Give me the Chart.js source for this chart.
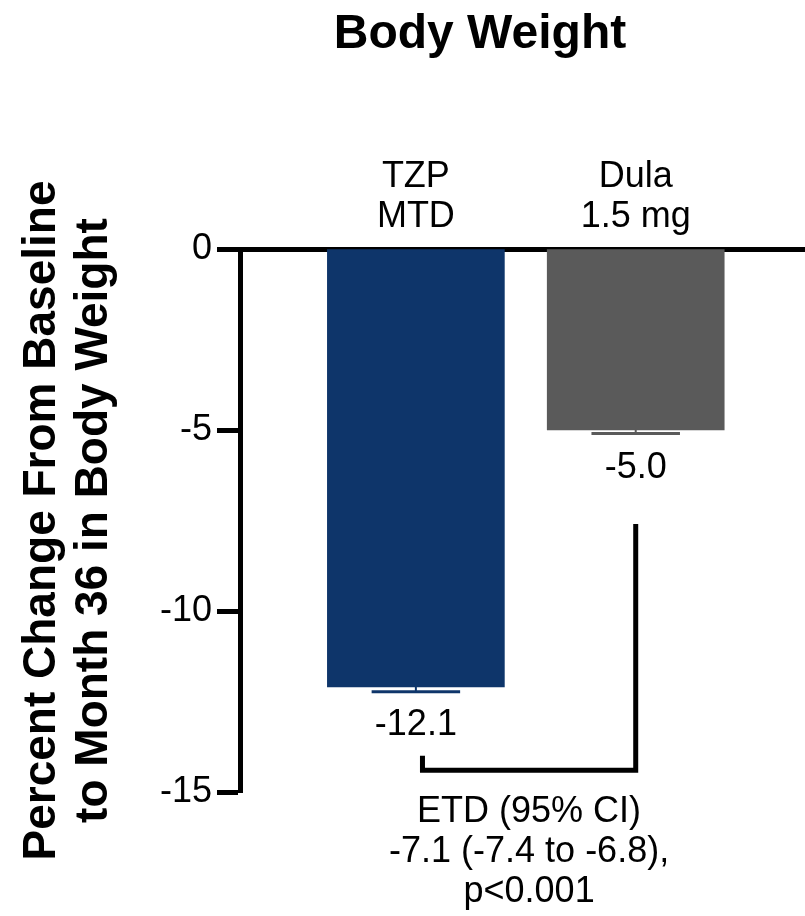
<!DOCTYPE html>
<html>
<head>
<meta charset="utf-8">
<script src="https://cdn.jsdelivr.net/npm/chart.js@4.4.1/dist/chart.umd.min.js"></script>
<style>
  body { margin: 0; background: #fff; }
  canvas { display: block; }
</style>
</head>
<body>
<canvas id="weightChart" width="805" height="916"></canvas>
<script>
const FONT = "'Liberation Sans', Arial, sans-serif";

// data
const categories = [["TZP", "MTD"], ["Dula", "1.5 mg"]];
const positions = [1, 2];
const meanChange = [-12.1, -5.0];
const stdError = [0.13, 0.1];
const valueLabels = ["-12.1", "-5.0"];
const barColors = ["#0e356a", "#5a5a5a"];

// bracket between the groups (data units)
const bracketX = [1.03, 1.03, 2, 2];
const bracketY = [-14.0, -14.4, -14.4, -7.6];
const etdLines = ["ETD (95% CI)", "-7.1 (-7.4 to -6.8),", "p<0.001"];

const yTitle = ["Percent Change From Baseline", "to Month 36 in Body Weight"];
const chartTitle = "Body Weight";

const weightChart = document.getElementById("weightChart");

// error bars, value labels, ETD text and title
const annotations = {
  id: "annotations",
  afterDatasetsDraw(chart) {
    const ctx = chart.ctx;
    const x = chart.scales.x;
    const y = chart.scales.y;
    const meta = chart.getDatasetMeta(0);
    ctx.save();

    meta.data.forEach((bar, i) => {
      const cx = x.getPixelForValue(positions[i]);
      const yBar = y.getPixelForValue(meanChange[i]);
      const yErr = y.getPixelForValue(meanChange[i] - stdError[i]);
      const half = bar.width * 0.25;
      ctx.strokeStyle = barColors[i];
      ctx.lineWidth = 2;
      ctx.beginPath();
      ctx.moveTo(cx, yBar);
      ctx.lineTo(cx, yErr);
      ctx.stroke();
      ctx.lineWidth = 3;
      ctx.beginPath();
      ctx.moveTo(cx - half, yErr);
      ctx.lineTo(cx + half, yErr);
      ctx.stroke();

      ctx.fillStyle = "#000";
      ctx.font = "36px " + FONT;
      ctx.textAlign = "center";
      ctx.textBaseline = "alphabetic";
      ctx.fillText(valueLabels[i], cx, yBar + 48);
    });

    // ETD text under the bracket
    const midX = (x.getPixelForValue(bracketX[0]) + x.getPixelForValue(bracketX[3])) / 2;
    const baseY = y.getPixelForValue(bracketY[1]);
    ctx.font = "36px " + FONT;
    ctx.textAlign = "center";
    etdLines.forEach((line, i) => {
      ctx.fillText(line, midX, baseY + 52 + i * 40);
    });

    // title
    ctx.font = "bold 48px " + FONT;
    ctx.fillText(chartTitle, 480, 48);
    ctx.restore();
  },
};

const dataWeight = {
  datasets: [
    {
      type: "bar",
      label: "Mean change",
      data: positions.map((p, i) => ({ x: p, y: meanChange[i] })),
      backgroundColor: barColors,
      borderWidth: 0,
      barThickness: 177,
      order: 2,
    },
    {
      type: "line",
      label: "ETD",
      data: bracketX.map((bx, i) => ({ x: bx, y: bracketY[i] })),
      borderColor: "#000",
      borderWidth: 5,
      borderJoinStyle: "miter",
      pointRadius: 0,
      tension: 0,
      fill: false,
      order: 1,
    },
  ],
};

const configWeight = {
  data: dataWeight,
  plugins: [annotations],
  options: {
    responsive: false,
    animation: false,
    layout: {
      padding: { top: 157, right: 0, bottom: 124, left: 0 },
    },
    plugins: {
      legend: { display: false },
      tooltip: { enabled: false },
      title: { display: false },
    },
    scales: {
      x: {
        type: "linear",
        position: "top",
        min: 0.2,
        max: 2.77,
        offset: false,
        z: 1,
        afterBuildTicks: (s) => {
          s.ticks = positions.map((p) => ({ value: p }));
        },
        afterFit: (s) => {
          s.height = 92;
        },
        ticks: {
          callback: (v) => categories[positions.indexOf(v)] || "",
          color: "#000",
          font: { family: FONT, size: 36, lineHeight: 1.11 },
          padding: 12,
          maxRotation: 0,
          autoSkip: false,
        },
        grid: { display: false, drawTicks: false },
        border: { display: true, color: "#000", width: 5 },
      },
      y: {
        min: -15,
        max: 0,
        afterFit: (s) => {
          s.width = 240;
        },
        ticks: {
          stepSize: 5,
          color: "#000",
          font: { family: FONT, size: 36 },
          padding: 5,
        },
        grid: {
          drawOnChartArea: false,
          drawTicks: true,
          tickLength: 23,
          tickWidth: 5,
          tickColor: "#000",
        },
        border: { display: true, color: "#000", width: 5 },
        title: {
          display: true,
          text: yTitle,
          color: "#000",
          font: { family: FONT, size: 46, weight: "bold", lineHeight: 1.13 },
          padding: { top: 16, bottom: 0 },
        },
      },
    },
  },
};

new Chart(weightChart, configWeight);
</script>
</body>
</html>
